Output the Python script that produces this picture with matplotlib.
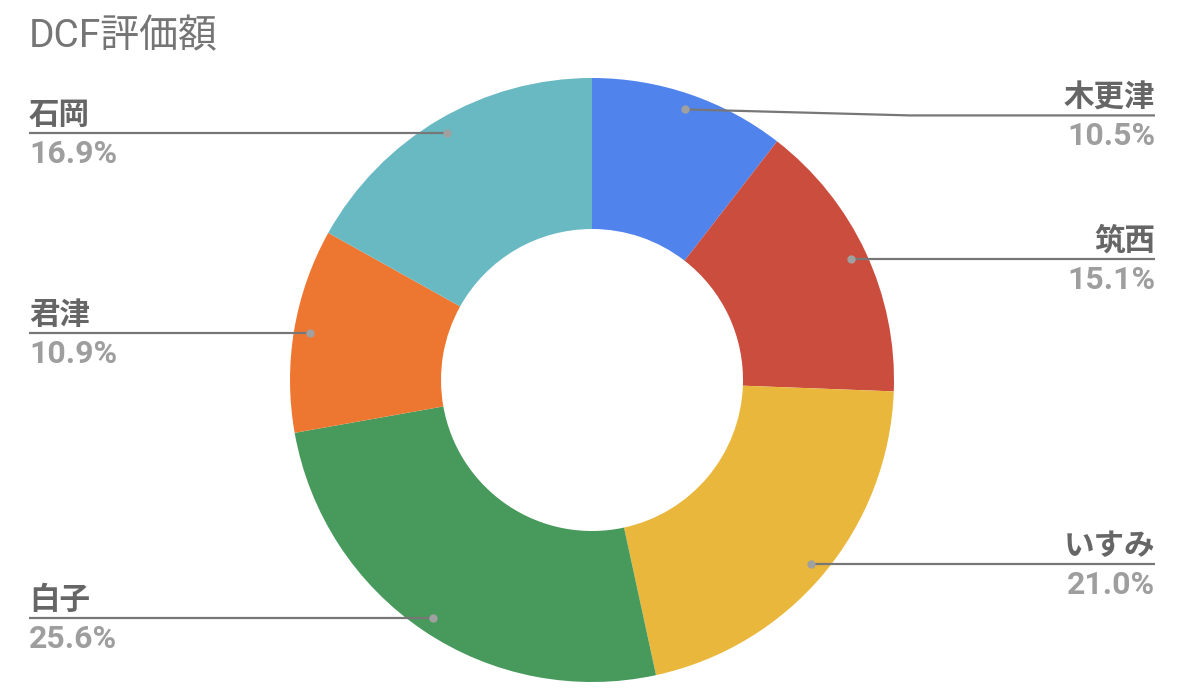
import matplotlib.pyplot as plt
import numpy as np

# DCF valuation share by site (clockwise from top)
names = ['木更津', '筑西', 'いすみ', '白子', '君津', '石岡']
shares = [10.5, 15.1, 21.0, 25.6, 10.9, 16.9]
colors = ['#5183ec', '#cb4d3e', '#eab73d', '#479a5c', '#ed7730', '#68b9c2']

plt.rcParams['font.family'] = ['Roboto', 'Noto Sans CJK JP', 'DejaVu Sans']

W, H = 1178, 700
fig = plt.figure(figsize=(W / 100, H / 100), dpi=100)
ax = fig.add_axes([0, 0, 1, 1])
ax.set_xlim(0, W)
ax.set_ylim(0, H)
ax.set_aspect('equal')
ax.axis('off')

# pixel layout (y measured from the top, flipped below)
cx, cy = 592, 380
r_out, r_in = 302, 151
r_dot = 286

ax.pie(shares, colors=colors, startangle=90, counterclock=False,
       center=(cx, H - cy), radius=r_out,
       wedgeprops=dict(width=r_out - r_in, linewidth=0))
ax.set_xlim(0, W)
ax.set_ylim(0, H)

fig.text(29 / W, 1 - 47 / H, 'DCF評価額', fontsize=28, color='#757575',
         ha='left', va='baseline')

cum = np.cumsum([0] + shares)
x_left, x_right = 29, 1155
for i, name in enumerate(names):
    mid = (cum[i] + cum[i + 1]) / 2 / 100 * 2 * np.pi
    dx = cx + r_dot * np.sin(mid)
    dy = cy - r_dot * np.cos(mid)
    right = dx > cx
    line_y = dy
    if i == 0:
        line_y = dy + 6
    if right:
        xs = [dx, 910, x_right]
        ys = [dy, line_y, line_y]
        tx, ha = x_right, 'right'
    else:
        xs = [x_left, dx]
        ys = [line_y, dy]
        tx, ha = x_left, 'left'
    ax.plot(xs, [H - v for v in ys], color='#777777', lw=1.6,
            solid_capstyle='butt', zorder=3)
    ax.plot(dx, H - dy, 'o', color='#a0a0a0', ms=6, mec='none', zorder=4)
    ax.text(tx, H - (line_y - 9), name, fontsize=22, fontweight='bold',
            color='#666666', ha=ha, va='baseline')
    ax.text(tx, H - (line_y + 30), f'{shares[i]:.1f}%', fontsize=23,
            fontweight='bold', color='#9e9e9e', ha=ha, va='baseline')

fig.savefig('out.png', dpi=100, facecolor='white')
